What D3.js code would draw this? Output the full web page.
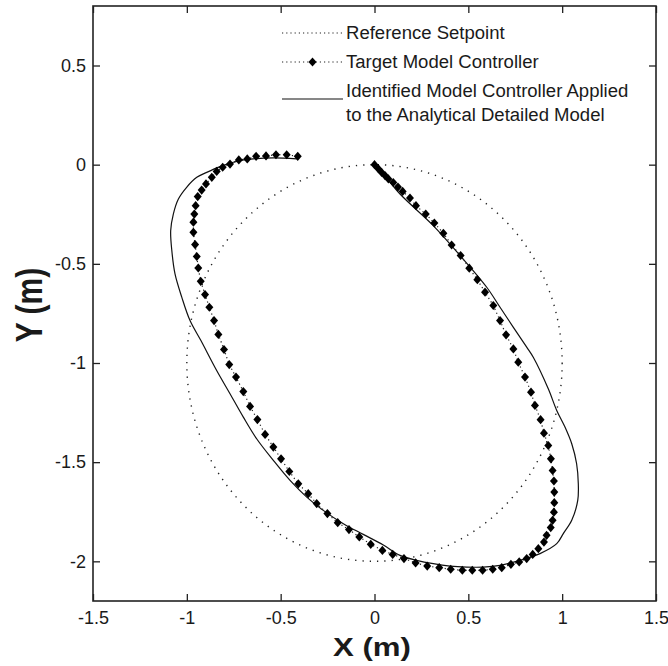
<!DOCTYPE html>
<html>
<head>
<meta charset="utf-8">
<script src="https://cdn.jsdelivr.net/npm/d3@7"></script>
<style>
  html, body { margin: 0; padding: 0; background: #fff; }
  svg { display: block; }
  text { font-family: Arial, "Liberation Sans", sans-serif; fill: #1a1a1a; }
</style>
</head>
<body>
<svg id="chart" width="668" height="666"></svg>
<script>
// ---- data ----
const xTicks = [-1.5, -1, -0.5, 0, 0.5, 1, 1.5];
const yTicks = [0.5, 0, -0.5, -1, -1.5, -2];
const xTickLabels = ["-1.5", "-1", "-0.5", "0", "0.5", "1", "1.5"];
const yTickLabels = ["0.5", "0", "-0.5", "-1", "-1.5", "-2"];

// Reference setpoint: circle centre and radius
const referenceCenter = [0, -1];
const referenceRadius = 1;

// Target model controller (diamond markers)
const targetX = [0, 0.02, 0.038, 0.056, 0.074, 0.10, 0.125, 0.15, 0.189, 0.221, 0.273, 0.319, 0.367, 0.411, 0.459, 0.505, 0.548, 0.589, 0.633, 0.669, 0.701, 0.740, 0.766, 0.802, 0.834, 0.855, 0.885, 0.903, 0.926, 0.940, 0.949, 0.956, 0.958, 0.958, 0.956, 0.949, 0.939, 0.917, 0.903, 0.873, 0.843, 0.811, 0.771, 0.727, 0.678, 0.630, 0.576, 0.521, 0.468, 0.406, 0.345, 0.281, 0.219, 0.157, 0.097, 0.042, -0.020, -0.081, -0.136, -0.196, -0.251, -0.308, -0.353, -0.406, -0.454, -0.498, -0.539, -0.583, -0.624, -0.663, -0.699, -0.738, -0.774, -0.802, -0.832, -0.855, -0.880, -0.903, -0.926, -0.939, -0.947, -0.956, -0.965, -0.965, -0.960, -0.953, -0.942, -0.921, -0.898, -0.867, -0.841, -0.809, -0.770, -0.723, -0.678, -0.631, -0.578, -0.525, -0.468, -0.409];
const targetY = [0, -0.02, -0.039, -0.055, -0.072, -0.09, -0.113, -0.135, -0.168, -0.207, -0.249, -0.294, -0.346, -0.405, -0.458, -0.522, -0.580, -0.643, -0.710, -0.786, -0.858, -0.929, -0.996, -1.071, -1.147, -1.214, -1.286, -1.354, -1.416, -1.483, -1.542, -1.595, -1.651, -1.704, -1.752, -1.793, -1.830, -1.869, -1.903, -1.936, -1.965, -1.986, -2.003, -2.015, -2.032, -2.040, -2.045, -2.045, -2.045, -2.040, -2.032, -2.024, -2.008, -1.986, -1.965, -1.945, -1.914, -1.877, -1.840, -1.805, -1.759, -1.709, -1.659, -1.609, -1.547, -1.483, -1.424, -1.360, -1.285, -1.219, -1.144, -1.071, -1.008, -0.932, -0.856, -0.786, -0.719, -0.655, -0.588, -0.521, -0.463, -0.403, -0.341, -0.290, -0.249, -0.207, -0.161, -0.128, -0.097, -0.064, -0.034, -0.013, 0.003, 0.024, 0.029, 0.042, 0.044, 0.050, 0.050, 0.042];

// Identified model controller applied to the analytical detailed model (solid)
const identX = [0, 0.05, 0.136, 0.313, 0.456, 0.598, 0.669, 0.740, 0.811, 0.846, 0.926, 0.971, 1.015, 1.051, 1.077, 1.086, 1.083, 1.051, 1.006, 0.971, 0.882, 0.775, 0.669, 0.580, 0.491, 0.402, 0.313, 0.225, 0.136, 0.047, -0.060, -0.166, -0.273, -0.361, -0.450, -0.539, -0.628, -0.699, -0.770, -0.841, -0.925, -0.983, -1.027, -1.063, -1.080, -1.086, -1.072, -1.045, -1.001, -0.947, -0.894, -0.823, -0.734, -0.646, -0.539, -0.414];
const identY = [0, -0.05, -0.148, -0.307, -0.458, -0.618, -0.719, -0.820, -0.920, -0.971, -1.130, -1.239, -1.323, -1.407, -1.508, -1.609, -1.693, -1.793, -1.860, -1.911, -1.961, -1.995, -2.020, -2.029, -2.029, -2.024, -2.012, -1.995, -1.970, -1.918, -1.864, -1.810, -1.743, -1.676, -1.592, -1.491, -1.382, -1.273, -1.155, -1.038, -0.887, -0.786, -0.668, -0.551, -0.433, -0.332, -0.249, -0.173, -0.114, -0.064, -0.039, -0.010, 0.017, 0.029, 0.034, 0.029];

const legendLabels = ["Reference Setpoint", "Target Model Controller", ["Identified Model Controller Applied", "to the Analytical Detailed Model"]];
const xLabel = "X (m)";
const yLabel = "Y (m)";

(function () {
// ---- layout ----
const svg = d3.select("#chart");
const pLeft = 93, pRight = 656, pTop = 6, pBottom = 601;
const x = d3.scaleLinear().domain([-1.5, 1.5]).range([pLeft, pRight]);
const y = d3.scaleLinear().domain([-2.2, 0.8]).range([pBottom, pTop]);

const tickFont = 18;

// ellipse (reference circle)
svg.append("ellipse")
  .attr("cx", x(referenceCenter[0]))
  .attr("cy", y(referenceCenter[1]))
  .attr("rx", x(referenceRadius) - x(0))
  .attr("ry", y(0) - y(referenceRadius))
  .attr("fill", "none")
  .attr("stroke", "#222")
  .attr("stroke-width", 1.4)
  .attr("stroke-dasharray", "1.3,6");

// solid line
const ident = identX.map((d, i) => [d, identY[i]]);
svg.append("path")
  .datum(ident)
  .attr("d", d3.line().x(d => x(d[0])).y(d => y(d[1])).curve(d3.curveCatmullRom.alpha(0.5)))
  .attr("fill", "none")
  .attr("stroke", "#111")
  .attr("stroke-width", 1.2);

// target dotted line + diamonds
const target = targetX.map((d, i) => [d, targetY[i]]);
svg.append("path")
  .datum(target)
  .attr("d", d3.line().x(d => x(d[0])).y(d => y(d[1])))
  .attr("fill", "none")
  .attr("stroke", "#222")
  .attr("stroke-width", 1.2)
  .attr("stroke-dasharray", "1.2,3");

const squareDiamond = {
  draw(ctx, size) {
    const r = Math.sqrt(size) / 2;
    ctx.moveTo(0, -r * 1.15);
    ctx.lineTo(r, 0);
    ctx.lineTo(0, r * 1.15);
    ctx.lineTo(-r, 0);
    ctx.closePath();
  }
};
const diamond = d3.symbol().type(squareDiamond).size(64);
svg.append("g").selectAll("path")
  .data(target)
  .join("path")
  .attr("transform", d => `translate(${x(d[0])},${y(d[1])})`)
  .attr("d", diamond)
  .attr("fill", "#000");

// axes (ticks inward on all four sides)
const tk = 7;
const gB = svg.append("g").attr("transform", `translate(0,${pBottom})`)
  .call(d3.axisBottom(x).tickValues(xTicks).tickFormat((d, i) => xTickLabels[i]).tickSizeInner(-tk).tickSizeOuter(0).tickPadding(10));
const gT = svg.append("g").attr("transform", `translate(0,${pTop})`)
  .call(d3.axisTop(x).tickValues(xTicks).tickFormat("").tickSizeInner(-tk).tickSizeOuter(0));
const gL = svg.append("g").attr("transform", `translate(${pLeft},0)`)
  .call(d3.axisLeft(y).tickValues(yTicks).tickFormat((d, i) => yTickLabels[i]).tickSizeInner(-tk).tickSizeOuter(0).tickPadding(7));
const gR = svg.append("g").attr("transform", `translate(${pRight},0)`)
  .call(d3.axisRight(y).tickValues(yTicks).tickFormat("").tickSizeInner(-tk).tickSizeOuter(0));
[gB, gT, gL, gR].forEach(g => {
  g.select(".domain").remove();
  g.selectAll(".tick line").attr("stroke", "#222").attr("stroke-width", 1.3);
  g.selectAll("text").attr("font-size", tickFont).attr("font-family", "Arial, 'Liberation Sans', sans-serif").attr("fill", "#1a1a1a");
});

// box
svg.append("rect")
  .attr("x", pLeft).attr("y", pTop)
  .attr("width", pRight - pLeft).attr("height", pBottom - pTop)
  .attr("fill", "none").attr("stroke", "#222").attr("stroke-width", 1.6);

// axis labels
svg.append("text")
  .attr("transform", `translate(372,656) scale(1.2,1)`)
  .attr("text-anchor", "middle")
  .attr("font-size", 26).attr("font-weight", "bold")
  .text(xLabel);
svg.append("text")
  .attr("transform", `translate(42,305) rotate(-90) scale(1,1.2)`)
  .attr("text-anchor", "middle")
  .attr("font-size", 30).attr("font-weight", "bold")
  .text(yLabel);

// legend
const lg = svg.append("g");
const lx0 = 282, lx1 = 343, tx = 346;
const legFont = 18;
lg.append("line").attr("x1", lx0).attr("x2", lx1).attr("y1", 33).attr("y2", 33)
  .attr("stroke", "#222").attr("stroke-width", 1.2).attr("stroke-dasharray", "1.2,3");
lg.append("line").attr("x1", lx0).attr("x2", lx1).attr("y1", 62).attr("y2", 62)
  .attr("stroke", "#222").attr("stroke-width", 1.2).attr("stroke-dasharray", "1.2,3");
lg.append("path").attr("transform", `translate(${(lx0 + lx1) / 2},62)`).attr("d", diamond).attr("fill", "#000");
lg.append("line").attr("x1", lx0).attr("x2", lx1).attr("y1", 99).attr("y2", 99)
  .attr("stroke", "#111").attr("stroke-width", 1.2);
const rows = [[legendLabels[0], 39], [legendLabels[1], 68], [legendLabels[2][0], 97], [legendLabels[2][1], 121]];
rows.forEach(([t, yy]) => {
  lg.append("text").attr("transform", `translate(${tx},${yy}) scale(1.03,1)`)
    .attr("font-size", legFont).text(t);
});
})();
</script>
</body>
</html>
